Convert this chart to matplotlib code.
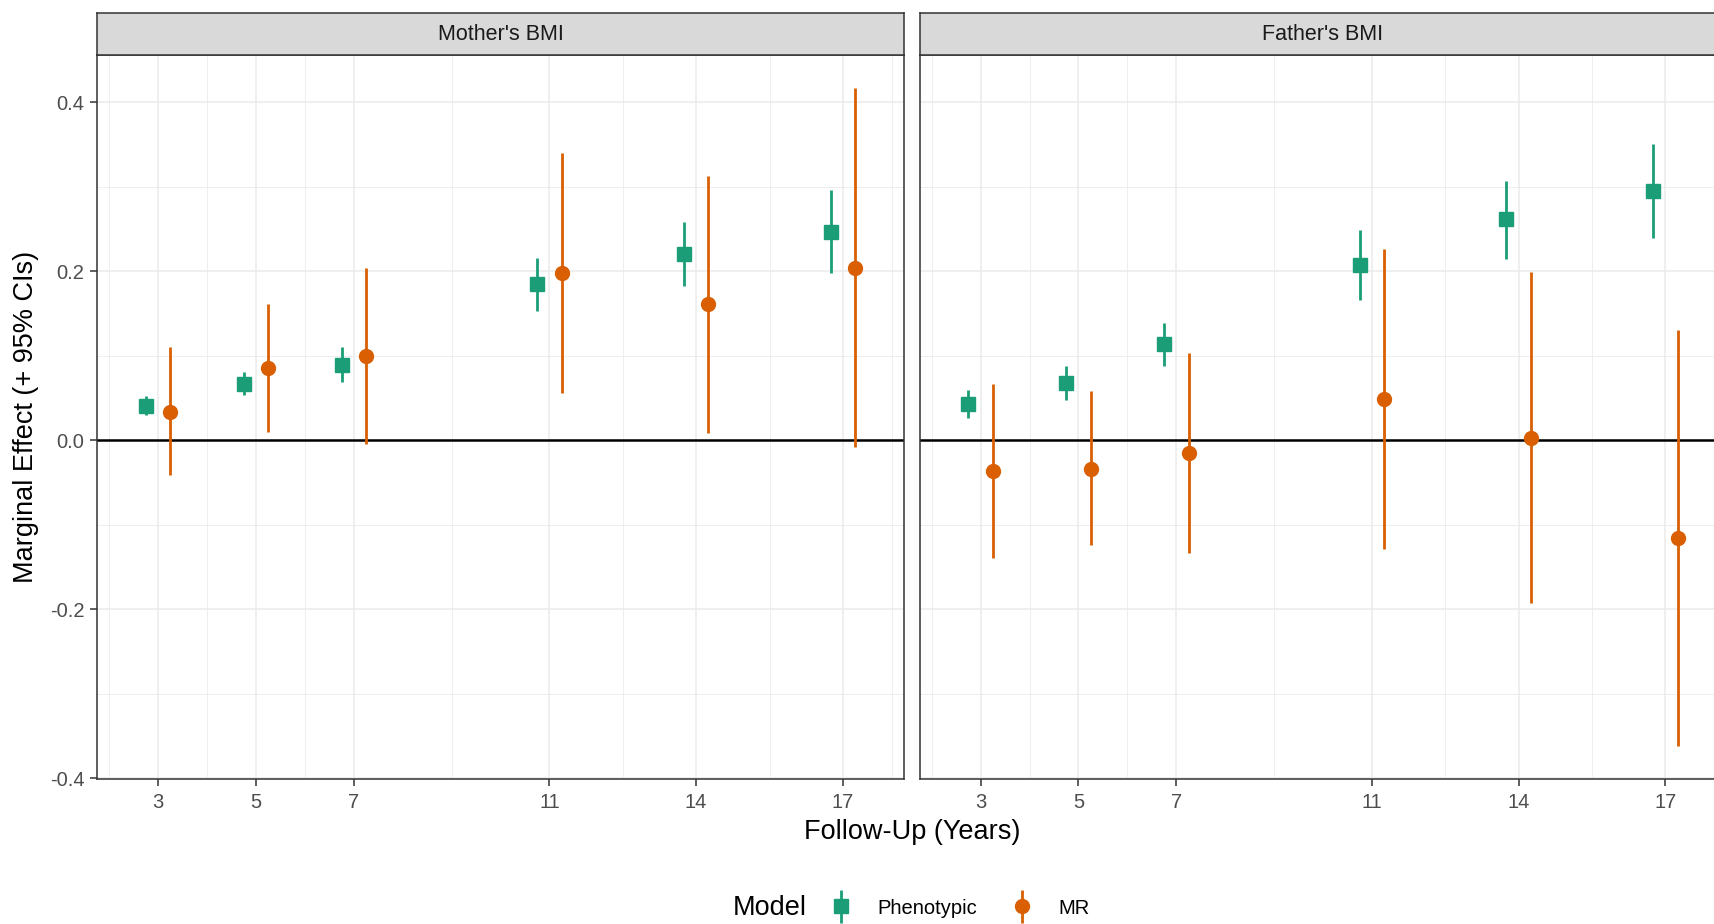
"""Marginal effect of parental BMI by follow-up year, phenotypic vs MR estimates."""

import matplotlib

matplotlib.use("Agg")
import matplotlib.pyplot as plt
import numpy as np
from matplotlib.legend_handler import HandlerErrorbar
from matplotlib.ticker import FixedLocator

plt.rcParams["font.family"] = ["Liberation Sans", "DejaVu Sans"]

# ---------------------------------------------------------------------------
# Data
# ---------------------------------------------------------------------------
years = [3, 5, 7, 11, 14, 17]
panels = ["Mother's BMI", "Father's BMI"]
models = ["Phenotypic", "MR"]

mother_pheno_est = [0.041, 0.067, 0.089, 0.185, 0.220, 0.247]
mother_pheno_lo = [0.030, 0.053, 0.069, 0.153, 0.182, 0.198]
mother_pheno_hi = [0.052, 0.081, 0.110, 0.216, 0.258, 0.296]

mother_mr_est = [0.034, 0.085, 0.100, 0.198, 0.161, 0.204]
mother_mr_lo = [-0.041, 0.010, -0.004, 0.056, 0.009, -0.008]
mother_mr_hi = [0.110, 0.161, 0.204, 0.340, 0.313, 0.417]

father_pheno_est = [0.043, 0.068, 0.114, 0.208, 0.262, 0.295]
father_pheno_lo = [0.026, 0.048, 0.088, 0.166, 0.215, 0.239]
father_pheno_hi = [0.060, 0.088, 0.139, 0.249, 0.307, 0.351]

father_mr_est = [-0.036, -0.034, -0.015, 0.049, 0.003, -0.116]
father_mr_lo = [-0.139, -0.124, -0.133, -0.129, -0.193, -0.362]
father_mr_hi = [0.066, 0.058, 0.103, 0.226, 0.199, 0.131]

# ---------------------------------------------------------------------------
# Styling
# ---------------------------------------------------------------------------
COLORS = {"Phenotypic": "#1B9E77", "MR": "#D95F02"}
MARKERS = {"Phenotypic": "s", "MR": "o"}
DODGE = {"Phenotypic": -0.25, "MR": 0.25}
GRID = "#EBEBEB"
DARK = "#333333"

W, H = 1714, 924
fig = plt.figure(figsize=(W / 100, H / 100), dpi=100)
fig.patch.set_facecolor("white")


def fx(px):
    return px / W


def fy(px):
    return 1 - px / H


panel_top, panel_bottom, strip_top = 55, 779, 13
panel_w = 807
lefts = [97, 919.5]

series = {
    "Mother's BMI": {
        "Phenotypic": (mother_pheno_est, mother_pheno_lo, mother_pheno_hi),
        "MR": (mother_mr_est, mother_mr_lo, mother_mr_hi),
    },
    "Father's BMI": {
        "Phenotypic": (father_pheno_est, father_pheno_lo, father_pheno_hi),
        "MR": (father_mr_est, father_mr_lo, father_mr_hi),
    },
}

handles = {}
for i, panel in enumerate(panels):
    left = lefts[i]
    ax = fig.add_axes(
        [fx(left), fy(panel_bottom), panel_w / W, (panel_bottom - panel_top) / H]
    )
    ax.set_xlim(1.75, 18.25)
    ax.set_ylim(-0.401, 0.456)

    # grid
    ax.xaxis.set_major_locator(FixedLocator(years))
    ax.xaxis.set_minor_locator(FixedLocator([2, 4, 6, 9, 12.5, 15.5, 18]))
    ax.yaxis.set_major_locator(FixedLocator([-0.4, -0.2, 0.0, 0.2, 0.4]))
    ax.yaxis.set_minor_locator(FixedLocator([-0.3, -0.1, 0.1, 0.3]))
    ax.grid(True, which="major", color=GRID, lw=1.1, zorder=0)
    ax.grid(True, which="minor", color=GRID, lw=0.6, zorder=0)
    ax.set_axisbelow(True)

    ax.axhline(0, color="black", lw=1.8, zorder=2)

    for model in models:
        est, lo, hi = series[panel][model]
        x = np.array(years) + DODGE[model]
        est = np.array(est)
        yerr = [est - np.array(lo), np.array(hi) - est]
        eb = ax.errorbar(
            x,
            est,
            yerr=yerr,
            fmt=MARKERS[model],
            color=COLORS[model],
            ms=10,
            elinewidth=2.0,
            capsize=0,
            zorder=3,
        )
        handles[model] = eb

    for sp in ax.spines.values():
        sp.set_color(DARK)
        sp.set_linewidth(1.1)

    ax.set_xticklabels([str(y) for y in years])
    ax.tick_params(
        axis="both",
        which="major",
        colors=DARK,
        labelcolor="#4D4D4D",
        labelsize=14.5,
        length=5,
        width=1.1,
        pad=4,
    )
    ax.tick_params(axis="x", which="major", pad=5)
    ax.tick_params(axis="both", which="minor", length=0)
    if i == 0:
        ax.set_yticklabels(["-0.4", "-0.2", "0.0", "0.2", "0.4"])
    else:
        ax.tick_params(axis="y", which="both", left=False, labelleft=False)

    # facet strip
    sax = fig.add_axes(
        [fx(left), fy(panel_top), panel_w / W, (panel_top - strip_top) / H]
    )
    sax.set_facecolor("#D9D9D9")
    sax.set_xticks([])
    sax.set_yticks([])
    for sp in sax.spines.values():
        sp.set_color(DARK)
        sp.set_linewidth(1.1)
    sax.text(
        0.5, 0.5, panel, ha="center", va="center", fontsize=15.5, color="#1A1A1A",
        transform=sax.transAxes,
    )

# axis titles
fig.text(
    fx((lefts[0] + lefts[1] + panel_w) / 2), fy(832), "Follow-Up (Years)",
    ha="center", va="center", fontsize=19.5,
)
fig.text(
    fx(26), fy((panel_top + panel_bottom) / 2), "Marginal Effect (+ 95% CIs)",
    ha="center", va="center", rotation=90, fontsize=19.5,
)

# legend at bottom
fig.text(fx(733), fy(908), "Model", ha="left", va="center", fontsize=19.5)
fig.legend(
    [handles[m] for m in models],
    models,
    loc="center left",
    bbox_to_anchor=(fx(831), fy(908)),
    ncol=2,
    frameon=False,
    fontsize=14.5,
    handlelength=1.0,
    handletextpad=1.3,
    columnspacing=1.75,
    borderpad=0,
    borderaxespad=0,
    handler_map={h: HandlerErrorbar(xerr_size=0.8) for h in handles.values()},
)

fig.savefig("out.png", dpi=100)
